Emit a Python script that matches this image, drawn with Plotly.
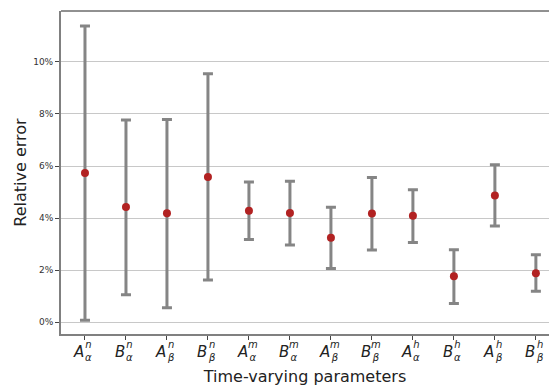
import plotly.graph_objects as go

bases = ["A", "B", "A", "B", "A", "B", "A", "B", "A", "B", "A", "B"]
subs = ["α", "α", "β", "β", "α", "α", "β", "β", "α", "α", "β", "β"]
sups = ["n", "n", "n", "n", "m", "m", "m", "m", "h", "h", "h", "h"]
centers = [5.73, 4.42, 4.18, 5.58, 4.28, 4.19, 3.24, 4.17, 4.09, 1.76, 4.87, 1.88]
uppers = [11.38, 7.77, 7.79, 9.55, 5.38, 5.41, 4.41, 5.56, 5.09, 2.78, 6.05, 2.59]
lowers = [0.07, 1.05, 0.55, 1.62, 3.17, 2.96, 2.06, 2.77, 3.06, 0.71, 3.69, 1.18]
yticks = [0, 0.02, 0.04, 0.06, 0.08, 0.10]

xs = list(range(len(centers)))
c = [v / 100 for v in centers]
up = [(u - m) / 100 for u, m in zip(uppers, centers)]
dn = [(m - l) / 100 for l, m in zip(lowers, centers)]

fig = go.Figure()
fig.add_trace(go.Scatter(
    x=xs, y=c, mode="markers",
    marker=dict(color="#b22222", size=8),
    error_y=dict(type="data", symmetric=False, array=up, arrayminus=dn,
                 color="#858585", thickness=3, width=5),
    showlegend=False,
))

font = "DejaVu Sans, sans-serif"
for i in xs:
    fig.add_annotation(x=i, y=0, xref="x", yref="paper", yanchor="top",
                       xshift=-6, yshift=-7, showarrow=False,
                       text="<i>%s</i>" % bases[i],
                       font=dict(family=font, size=15, color="#222"))
    fig.add_annotation(x=i, y=0, xref="x", yref="paper", yanchor="top",
                       xshift=4, yshift=-3, showarrow=False,
                       text="<i>%s</i><br><i>%s</i>" % (sups[i], subs[i]),
                       font=dict(family=font, size=10, color="#222"))

fig.add_shape(type="line", xref="paper", yref="paper", x0=0, x1=1, y0=1, y1=1,
              line=dict(color="#222", width=1))

fig.update_layout(
    width=549, height=386,
    margin=dict(l=61, r=0, t=11, b=52),
    plot_bgcolor="white", paper_bgcolor="white",
    font=dict(family=font, color="#222"),
    xaxis=dict(range=[-0.585, 11.32], tickvals=xs, showticklabels=False,
               ticks="outside", ticklen=4, tickcolor="#444",
               showgrid=False, zeroline=False,
               showline=True, linecolor="#808080", linewidth=2,
               title=dict(text="Time-varying parameters", font=dict(size=16), standoff=33)),
    yaxis=dict(range=[-0.0046, 0.1196], tickvals=yticks, tickformat=".0%",
               ticks="outside", ticklen=4, tickcolor="#444",
               tickfont=dict(size=9, color="#333"),
               showgrid=True, gridcolor="#c8c8c8", gridwidth=1, zeroline=False,
               showline=True, linecolor="#808080", linewidth=2,
               title=dict(text="Relative error", font=dict(size=16), standoff=3)),
)

fig.write_html("out.html")
